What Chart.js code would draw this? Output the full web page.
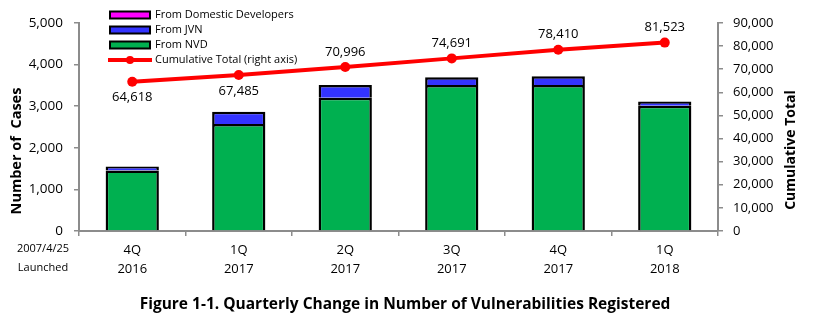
<!DOCTYPE html>
<html>
<head>
<meta charset="utf-8">
<script src="https://cdn.jsdelivr.net/npm/chart.js@4.4.1/dist/chart.umd.min.js"></script>
<style>
  html, body { margin: 0; padding: 0; background: #fff; }
  #wrap { width: 815px; height: 328px; position: relative; }
</style>
</head>
<body>
<div id="wrap"><canvas id="c" width="815" height="328"></canvas></div>
<script>
// Quarters shown on the category axis (two-line labels)
const quarters = [['4Q', '2016'], ['1Q', '2017'], ['2Q', '2017'], ['3Q', '2017'], ['4Q', '2017'], ['1Q', '2018']];

// Vulnerabilities registered per quarter, by source
const fromNVD      = [1454, 2572, 3204, 3510, 3510, 3012];
const fromJVN      = [94, 293, 305, 183, 207, 99];
const fromDomestic = [2, 2, 2, 2, 2, 2];

// Cumulative total since launch (right axis)
const cumulative = [64618, 67485, 70996, 74691, 78410, 81523];
// Which cumulative labels sit below their point
const labelBelow = [true, true, false, false, false, false];

const leftTicks  = { min: 0, max: 5000, step: 1000 };
const rightTicks = { min: 0, max: 90000, step: 10000 };

const FONT = "'Open Sans', 'Noto Sans', sans-serif";
const AXIS_GRAY = '#8c8c8c';
const fmt = v => Number(v).toLocaleString('en-US');

const legendItems = [
  { label: 'From Domestic Developers', color: '#FF00FF', type: 'box' },
  { label: 'From JVN', color: '#3333FF', type: 'box' },
  { label: 'From NVD', color: '#00B050', type: 'box' },
  { label: 'Cumulative Total (right axis)', color: '#FF0000', type: 'line' }
];

const extras = {
  id: 'extras',
  afterDraw(chart) {
    const ctx = chart.ctx;
    ctx.save();

    // value labels for the cumulative line
    const meta = chart.getDatasetMeta(3);
    ctx.font = '13px ' + FONT;
    ctx.fillStyle = '#000';
    ctx.textAlign = 'center';
    ctx.textBaseline = 'middle';
    meta.data.forEach((pt, i) => {
      const dy = labelBelow[i] ? 16 : -15;
      ctx.fillText(fmt(cumulative[i]), pt.x, pt.y + dy);
    });

    // legend
    ctx.font = '11px ' + FONT;
    ctx.textAlign = 'left';
    legendItems.forEach((it, i) => {
      const y = 15 + i * 15;
      if (it.type === 'box') {
        ctx.fillStyle = it.color;
        ctx.fillRect(110, y - 3.5, 40, 7);
        ctx.strokeStyle = '#000';
        ctx.lineWidth = 2;
        ctx.strokeRect(110, y - 3.5, 40, 7);
      } else {
        ctx.strokeStyle = it.color;
        ctx.lineWidth = 4;
        ctx.beginPath();
        ctx.moveTo(108, y);
        ctx.lineTo(152, y);
        ctx.stroke();
        ctx.fillStyle = it.color;
        ctx.beginPath();
        ctx.arc(130, y, 4, 0, Math.PI * 2);
        ctx.fill();
      }
      ctx.fillStyle = '#000';
      ctx.fillText(it.label, 155, y);
    });

    // axis titles
    ctx.font = 'bold 14.5px ' + FONT;
    ctx.textAlign = 'center';
    ctx.save();
    ctx.translate(17, 151);
    ctx.rotate(-Math.PI / 2);
    ctx.fillText('Number of  Cases', 0, 0);
    ctx.restore();
    ctx.save();
    ctx.translate(791, 150);
    ctx.rotate(-Math.PI / 2);
    ctx.font = 'bold 14px ' + FONT;
    ctx.fillText('Cumulative Total', 0, 0);
    ctx.restore();

    // launch note under the left axis
    ctx.font = '11px ' + FONT;
    ctx.fillText('2007/4/25', 43, 249);
    ctx.fillText('Launched', 43, 268);

    // caption
    ctx.font = 'bold 15.5px ' + FONT;
    ctx.fillText('Figure 1-1. Quarterly Change in Number of Vulnerabilities Registered', 405, 305);

    ctx.restore();
  }
};

new Chart(document.getElementById('c'), {
  type: 'bar',
  data: {
    labels: quarters,
    datasets: [
      { label: 'From NVD', data: fromNVD, backgroundColor: '#00B050', borderColor: '#000', borderWidth: 2.5, yAxisID: 'y', stack: 's', order: 1, barPercentage: 0.5, categoryPercentage: 1 },
      { label: 'From JVN', data: fromJVN, backgroundColor: '#3333FF', borderColor: '#000', borderWidth: 2.5, yAxisID: 'y', stack: 's', order: 1, barPercentage: 0.5, categoryPercentage: 1 },
      { label: 'From Domestic Developers', data: fromDomestic, backgroundColor: '#FF00FF', borderColor: '#000', borderWidth: 2.5, yAxisID: 'y', stack: 's', order: 1, barPercentage: 0.5, categoryPercentage: 1 },
      { type: 'line', label: 'Cumulative Total (right axis)', data: cumulative, yAxisID: 'y2', borderColor: '#FF0000', backgroundColor: '#FF0000', borderWidth: 4, pointRadius: 5, pointBackgroundColor: '#FF0000', pointBorderWidth: 0, order: 0, tension: 0 }
    ]
  },
  options: {
    responsive: false,
    animation: false,
    layout: { padding: { top: 23, left: 0, right: 0, bottom: 0 } },
    plugins: { legend: { display: false }, tooltip: { enabled: false } },
    scales: {
      x: {
        stacked: true,
        grid: { display: true, drawOnChartArea: false, drawTicks: true, tickLength: 5, color: AXIS_GRAY, offset: true, lineWidth: 1.5 },
        border: { display: true, color: AXIS_GRAY, width: 2 },
        ticks: { color: '#000', font: { family: FONT, size: 13, lineHeight: 1.45 }, padding: 5, maxRotation: 0 },
        afterFit: s => { s.height = 97; }
      },
      y: {
        stacked: true,
        position: 'left',
        min: leftTicks.min, max: leftTicks.max,
        grid: { display: true, drawOnChartArea: false, drawTicks: true, tickLength: 5, color: AXIS_GRAY, lineWidth: 1.5 },
        border: { display: true, color: AXIS_GRAY, width: 2 },
        ticks: { stepSize: leftTicks.step, color: '#000', font: { family: FONT, size: 13.5 }, padding: 11, callback: v => fmt(v) },
        afterFit: s => { s.width = 79; }
      },
      y2: {
        position: 'right',
        min: rightTicks.min, max: rightTicks.max,
        grid: { display: true, drawOnChartArea: false, drawTicks: true, tickLength: 5, color: AXIS_GRAY, lineWidth: 1.5 },
        border: { display: true, color: AXIS_GRAY, width: 2 },
        ticks: { stepSize: rightTicks.step, color: '#000', font: { family: FONT, size: 13 }, padding: 10, callback: v => fmt(v) },
        afterFit: s => { s.width = 97; }
      }
    }
  },
  plugins: [extras]
});
</script>
</body>
</html>
